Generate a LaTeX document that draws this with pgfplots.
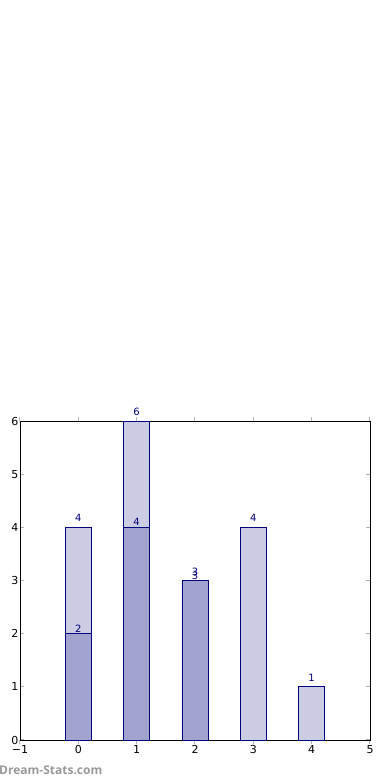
\documentclass[border=0pt]{standalone}
\usepackage{pgfplots}
\pgfplotsset{compat=1.18}
\usepackage{fontspec}
\setmainfont{DejaVu Sans}
\newfontfamily\wmfont{Open Sans}
\definecolor{lightbar}{HTML}{CCCCE5}
\definecolor{darkbar}{HTML}{A3A3D0}
\definecolor{edgeblue}{HTML}{000080}
\begin{document}
\begin{tikzpicture}[x=1pt,y=1pt]
\useasboundingbox (0,0) rectangle (390,780);
\begin{axis}[
  at={(20pt,40pt)}, anchor=south west,
  scale only axis, width=350pt, height=319pt,
  xmin=-1, xmax=5, ymin=0, ymax=6,
  xtick={-1,0,...,5}, xticklabels={−1,0,1,2,3,4,5},
  ytick={0,...,6}, yticklabels={0,1,2,3,4,5,6},
  /pgf/number format/assume math mode=true,
  tick align=inside,
  major tick length=4pt,
  tick style={gray!60, line width=1pt},
  axis line style={black, line width=0.8pt},
  ticklabel style={font=\fontsize{11}{12}\selectfont, black},
  xticklabel style={yshift=2pt},
  yticklabel style={xshift=2pt},
  ybar, bar width=26pt, bar shift=0pt,
  clip=false,
]
\addplot[fill=lightbar, draw=edgeblue, line width=0.8pt,
  nodes near coords, every node near coord/.append style={font=\fontsize{10}{11}\selectfont, text=edgeblue, anchor=center, yshift=9pt}]
  coordinates {(0,4) (1,6) (2,3) (3,4) (4,1)};
\addplot[fill=darkbar, draw=edgeblue, line width=0.8pt,
  nodes near coords, every node near coord/.append style={font=\fontsize{10}{11}\selectfont, text=edgeblue, anchor=center, yshift=5pt}]
  coordinates {(0,2) (1,4) (2,3)};
\end{axis}
\node[anchor=west, inner sep=0pt, text=gray!80, font=\wmfont\bfseries\fontsize{12}{14}\selectfont] at (-1,10) {Dream-Stats.com};
\end{tikzpicture}
\end{document}
